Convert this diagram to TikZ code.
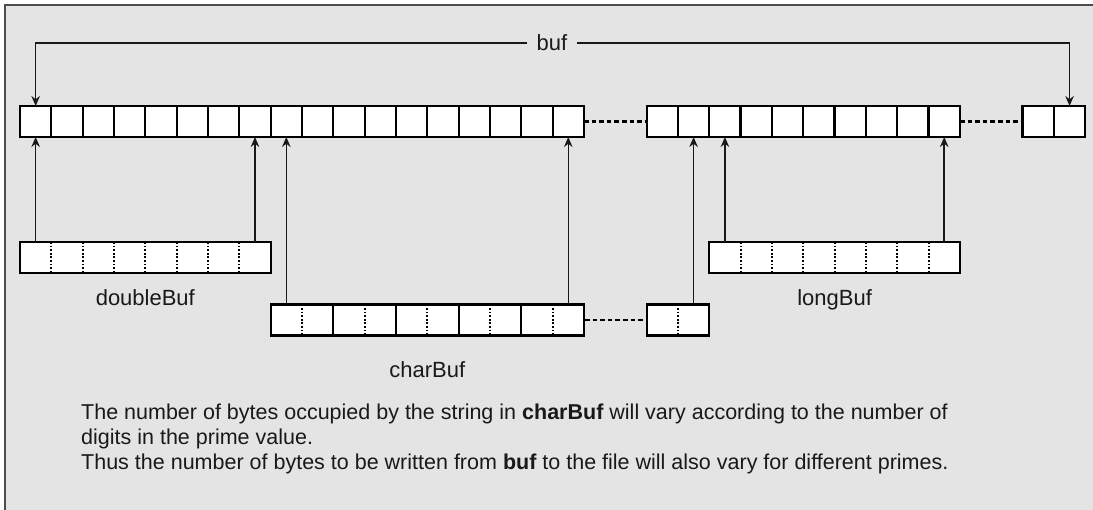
\documentclass[tikz,border=0pt]{standalone}
\usepackage{fontspec}
\setmainfont{Liberation Sans}
\usetikzlibrary{arrows.meta, positioning, fit}
\definecolor{cpanel}{gray}{0.894}
\definecolor{cedge}{gray}{0.30}
\definecolor{cink}{gray}{0.10}

\begin{document}
\begin{tikzpicture}[
    x=1pt, y=-1pt,
    >={Stealth[length=10pt, width=8.5pt]},
    cell/.style={draw=black, fill=white, line width=2.2pt, inner sep=0pt, outer sep=0pt,
        minimum width=\w pt, minimum height=31pt},
    slot/.style={inner sep=0pt, outer sep=0pt, minimum width=\w pt, minimum height=31pt},
    bufbox/.style={draw=black, fill=white, line width=2.2pt, inner sep=0pt},
    half/.style={draw=black, line width=2pt, dash pattern=on 1.8pt off 1.8pt},
    wall/.style={draw=black, line width=2.2pt},
    gap/.style={draw=black, line width=2.2pt, dash pattern=on 4.6pt off 3pt},
    flow/.style={->, draw=cink, line width=1.5pt},
    bufname/.style={font=\fontsize{22}{26}\selectfont, text=cink, inner sep=0pt},
    note/.style={font=\fontsize{21.5}{25}\selectfont, text=cink, align=left, inner sep=0pt}
]
\def\w{31.33}

%% Panel, open on the right and at the bottom
\useasboundingbox (0,0) rectangle (1093,510);
\fill[cpanel] (5,5) rectangle (1093,510);
\draw[cedge, line width=2.2pt] (5,510) -- (5,5) -- (1093,5);

%% buf: three runs of bytes on one grid
\foreach \i in {0,...,17}
    \node[cell] (a\i) at ({20+\w*(\i+0.5)},121.5) {};
\foreach \i in {0,...,9}
    \node[cell] (b\i) at ({20+\w*(\i+20.5)},121.5) {};
\foreach \i in {0,1}
    \node[cell] (c\i) at ({20+\w*(\i+32.5)},121.5) {};
\draw[gap] (a17.east) -- (b0.west);
\draw[gap] (b9.east) -- (c0.west);

%% buf label, bracketing the whole buffer
\node[bufname, minimum width=50pt] (buf) at (552,43) {buf};
\draw[flow] (buf) -| (a0.north);
\draw[flow] (buf) -| (c1.north);

\coordinate (row1) at (0,257.5);
\coordinate (row2) at (0,320);

%% doubleBuf
\foreach \i in {0,...,7}
    \node[slot] (d\i) at (a\i |- row1) {};
\node[bufbox, fit=(d0)(d7)] (dbl) {};
\foreach \i in {0,...,6}
    \draw[half] (d\i.north east) -- (d\i.south east);
\node[bufname, below=15pt of dbl] {doubleBuf};

%% charBuf, with its tail after the gap
\foreach \i [count=\j from 8] in {0,...,9}
    \node[slot] (h\i) at (a\j |- row2) {};
\node[bufbox, fit=(h0)(h9)] (chr) {};
\foreach \i in {0,2,...,8}
    \draw[half] (h\i.north east) -- (h\i.south east);
\foreach \i in {1,3,...,7}
    \draw[wall] (h\i.north east) -- (h\i.south east);
\node[slot] (t0) at (b0 |- row2) {};
\node[slot] (t1) at (b1 |- row2) {};
\node[bufbox, fit=(t0)(t1)] (chrtail) {};
\draw[half] (t0.north east) -- (t0.south east);
\draw[gap] (chr.east) -- (chrtail.west);
\node[bufname, below=25pt of chr] {charBuf};

%% longBuf
\foreach \i [count=\j from 2] in {0,...,7}
    \node[slot] (l\i) at (b\j |- row1) {};
\node[bufbox, fit=(l0)(l7)] (lng) {};
\foreach \i in {0,...,6}
    \draw[half] (l\i.north east) -- (l\i.south east);
\node[bufname, below=15pt of lng] {longBuf};

%% Where each view starts and ends inside buf
\draw[flow] (d0.north) -- (a0.south);
\draw[flow] (d7.north) -- (a7.south);
\draw[flow] (h0.north) -- (a8.south);
\draw[flow] (h9.north) -- (a17.south);
\draw[flow] (t1.north) -- (b1.south);
\draw[flow] (l0.north) -- (b2.south);
\draw[flow] (l7.north) -- (b9.south);

%% Note
\node[note, anchor=north west] (remark) at (81,404)
   {The number of bytes occupied by the string in \textbf{charBuf} will vary according to the number of\\
    digits in the prime value.\\
    Thus the number of bytes to be written from \textbf{buf} to the file will also vary for different primes.};

\end{tikzpicture}
\end{document}
